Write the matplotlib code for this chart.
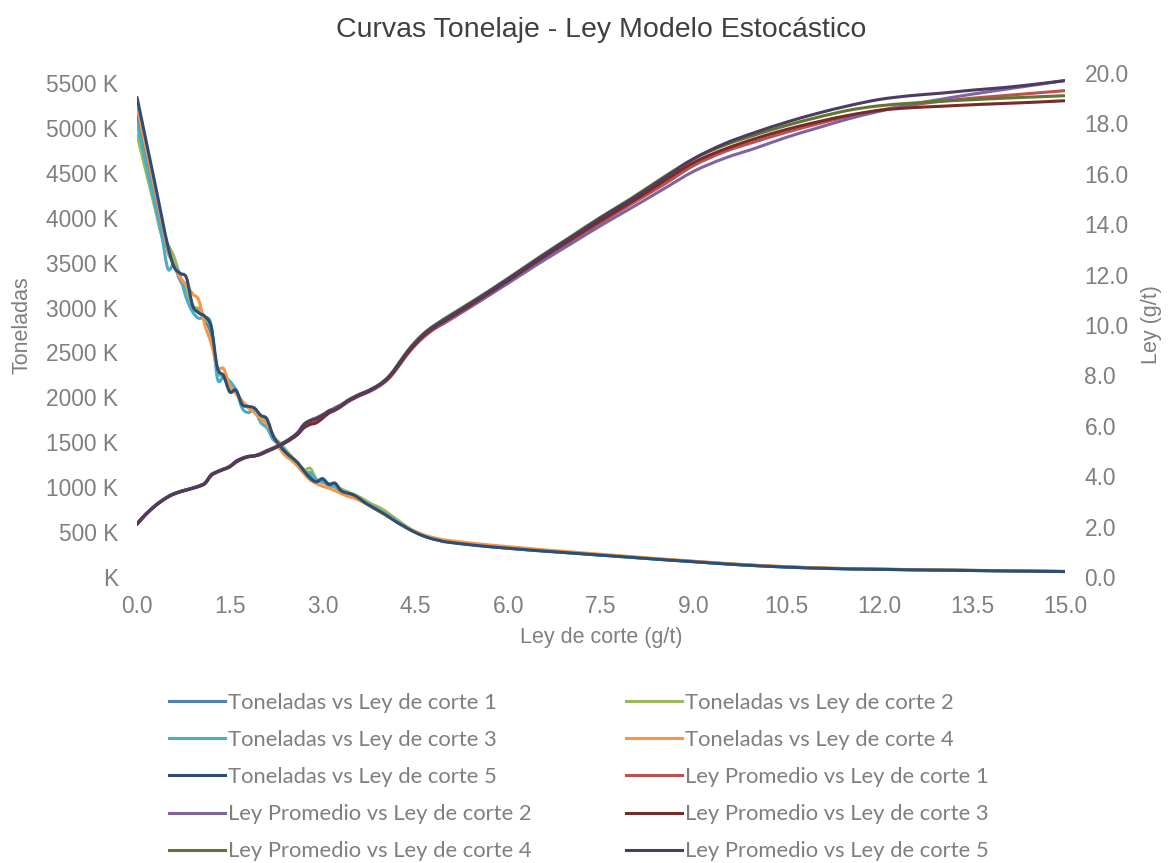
import numpy as np
import matplotlib
matplotlib.use("Agg")
import matplotlib.pyplot as plt
from matplotlib.ticker import FixedLocator, FuncFormatter
from matplotlib.font_manager import FontProperties
from matplotlib.textpath import TextPath
from matplotlib.path import Path
from matplotlib.patches import PathPatch
from matplotlib.lines import Line2D

# ---------------------------------------------------------------------------
# Data: cut-off grade (g/t), tonnage (K t) and mean grade (g/t) per realisation
# ---------------------------------------------------------------------------
ley_corte = [0.0, 0.1, 0.2, 0.3, 0.4, 0.5, 0.6, 0.7, 0.8, 0.9,
             1.0, 1.1, 1.2, 1.3, 1.4, 1.5, 1.6, 1.7, 1.8, 1.9,
             2.0, 2.1, 2.2, 2.3, 2.4, 2.5, 2.6, 2.7, 2.8, 2.9,
             3.0, 3.1, 3.2, 3.3, 3.4, 3.5, 3.6, 3.7, 3.8, 3.9,
             4.0, 4.1, 4.2, 4.3, 4.4, 4.5, 4.6, 4.7, 4.8, 4.9,
             5.0, 5.5, 6.0, 6.5, 7.0, 7.5, 8.0, 8.5, 9.0, 9.5,
             10.0, 10.5, 11.0, 11.5, 12.0, 12.5, 13.0, 13.5, 14.0, 14.5, 15.0]

toneladas_1 = [5150, 4850, 4540, 4230, 3920, 3620, 3480, 3300, 3200, 3020,
               2960, 2860, 2700, 2300, 2230, 2090, 2060, 1950, 1890, 1860,
               1790, 1740, 1580, 1480, 1390, 1320, 1260, 1190, 1120, 1070,
               1070, 1040, 1020, 970, 930, 905, 865, 825, 785, 745,
               705, 660, 615, 575, 535, 500, 470, 445, 425, 410,
               395, 355, 322, 295, 270, 245, 220, 195, 172, 148,
               128, 112, 100, 92, 86, 81, 77, 73, 69, 65, 61]

toneladas_2 = [4920, 4640, 4360, 4080, 3800, 3700, 3560, 3350, 3200, 3010,
               2990, 2880, 2760, 2290, 2250, 2130, 2050, 1960, 1880, 1850,
               1780, 1720, 1560, 1500, 1420, 1340, 1270, 1190, 1210, 1090,
               1050, 1040, 1010, 980, 950, 920, 890, 850, 810, 780,
               740, 690, 640, 590, 545, 505, 470, 445, 425, 410,
               398, 358, 325, 297, 272, 247, 222, 197, 173, 149,
               129, 113, 101, 93, 87, 82, 77, 73, 69, 65, 61]

toneladas_3 = [5050, 4740, 4430, 4120, 3800, 3430, 3480, 3330, 3100, 2950,
               2880, 2890, 2800, 2210, 2230, 2180, 2080, 1880, 1830, 1860,
               1720, 1660, 1530, 1480, 1400, 1300, 1240, 1170, 1160, 1080,
               1060, 1020, 1000, 950, 930, 900, 865, 825, 790, 750,
               710, 665, 620, 575, 535, 498, 465, 440, 420, 405,
               392, 352, 320, 293, 268, 243, 219, 194, 171, 147,
               127, 111, 99, 91, 86, 81, 77, 73, 69, 65, 61]

toneladas_4 = [5240, 4920, 4600, 4280, 3960, 3640, 3470, 3330, 3250, 3150,
               3080, 2800, 2600, 2330, 2320, 2130, 2040, 1950, 1890, 1830,
               1760, 1700, 1570, 1440, 1350, 1300, 1230, 1150, 1080, 1040,
               1010, 990, 960, 930, 900, 880, 850, 815, 775, 735,
               695, 655, 610, 570, 535, 505, 478, 455, 437, 422,
               410, 370, 338, 308, 280, 253, 226, 200, 176, 152,
               132, 115, 102, 94, 88, 83, 78, 74, 70, 66, 62]

toneladas_5 = [5340, 5010, 4680, 4350, 4010, 3680, 3450, 3380, 3330, 3020,
               2940, 2900, 2780, 2330, 2240, 2060, 2080, 1920, 1900, 1880,
               1800, 1760, 1570, 1470, 1390, 1330, 1270, 1180, 1100, 1060,
               1095, 1030, 1045, 960, 935, 915, 870, 820, 780, 740,
               700, 655, 610, 570, 530, 495, 465, 440, 420, 405,
               390, 350, 320, 292, 268, 243, 218, 193, 170, 146,
               126, 110, 98, 90, 85, 80, 76, 72, 68, 64, 60]

ley_promedio_1 = [2.08, 2.36, 2.61, 2.83, 3.01, 3.17, 3.29, 3.38, 3.45, 3.52,
                  3.59, 3.70, 4.02, 4.16, 4.27, 4.37, 4.55, 4.68, 4.77, 4.80,
                  4.86, 4.97, 5.08, 5.20, 5.33, 5.48, 5.68, 6.00, 6.15, 6.22,
                  6.35, 6.52, 6.62, 6.76, 6.93, 7.07, 7.19, 7.29, 7.41, 7.55,
                  7.72, 7.95, 8.26, 8.60, 8.92, 9.20, 9.44, 9.65, 9.83, 9.98,
                  10.12, 10.88, 11.68, 12.50, 13.28, 14.06, 14.82, 15.55, 16.33, 16.88,
                  17.28, 17.65, 17.98, 18.28, 18.52, 18.72, 18.88, 19.00, 19.10, 19.20, 19.30]

ley_promedio_2 = [2.12, 2.40, 2.63, 2.85, 3.03, 3.19, 3.31, 3.40, 3.47, 3.53,
                  3.61, 3.74, 4.06, 4.19, 4.29, 4.40, 4.60, 4.72, 4.79, 4.82,
                  4.90, 5.02, 5.12, 5.24, 5.38, 5.54, 5.74, 6.06, 6.22, 6.32,
                  6.45, 6.56, 6.72, 6.84, 6.99, 7.12, 7.22, 7.32, 7.44, 7.58,
                  7.76, 8.00, 8.32, 8.66, 8.98, 9.25, 9.49, 9.70, 9.87, 10.02,
                  10.16, 10.90, 11.66, 12.45, 13.20, 13.95, 14.66, 15.38, 16.10, 16.62,
                  17.02, 17.45, 17.82, 18.18, 18.48, 18.74, 18.96, 19.16, 19.34, 19.52, 19.70]

ley_promedio_3 = [2.10, 2.37, 2.62, 2.83, 3.02, 3.18, 3.30, 3.39, 3.46, 3.53,
                  3.61, 3.73, 4.04, 4.17, 4.27, 4.37, 4.56, 4.69, 4.77, 4.81,
                  4.89, 5.00, 5.10, 5.21, 5.34, 5.49, 5.66, 5.92, 6.05, 6.12,
                  6.30, 6.50, 6.62, 6.78, 6.96, 7.10, 7.22, 7.32, 7.44, 7.58,
                  7.76, 7.99, 8.31, 8.65, 8.97, 9.25, 9.50, 9.71, 9.89, 10.05,
                  10.20, 10.96, 11.76, 12.58, 13.37, 14.15, 14.90, 15.68, 16.45, 16.98,
                  17.40, 17.76, 18.06, 18.32, 18.52, 18.62, 18.68, 18.74, 18.79, 18.84, 18.90]

ley_promedio_4 = [2.11, 2.39, 2.63, 2.85, 3.03, 3.19, 3.31, 3.39, 3.46, 3.53,
                  3.61, 3.73, 4.05, 4.18, 4.28, 4.39, 4.57, 4.70, 4.78, 4.81,
                  4.89, 5.01, 5.11, 5.23, 5.37, 5.53, 5.73, 6.06, 6.21, 6.30,
                  6.42, 6.60, 6.68, 6.82, 7.00, 7.14, 7.26, 7.36, 7.48, 7.62,
                  7.80, 8.05, 8.38, 8.73, 9.06, 9.34, 9.59, 9.80, 9.98, 10.14,
                  10.30, 11.06, 11.86, 12.69, 13.49, 14.29, 15.04, 15.85, 16.60, 17.14,
                  17.55, 17.92, 18.24, 18.52, 18.70, 18.80, 18.88, 18.94, 19.00, 19.05, 19.10]

ley_promedio_5 = [2.10, 2.38, 2.62, 2.84, 3.02, 3.18, 3.30, 3.38, 3.45, 3.52,
                  3.60, 3.72, 4.05, 4.18, 4.28, 4.38, 4.58, 4.70, 4.78, 4.80,
                  4.88, 5.00, 5.10, 5.22, 5.36, 5.52, 5.72, 6.05, 6.20, 6.28,
                  6.40, 6.58, 6.66, 6.80, 6.98, 7.12, 7.24, 7.34, 7.46, 7.60,
                  7.78, 8.02, 8.35, 8.70, 9.02, 9.30, 9.55, 9.76, 9.94, 10.10,
                  10.25, 11.02, 11.82, 12.65, 13.45, 14.25, 15.00, 15.80, 16.60, 17.20,
                  17.65, 18.05, 18.40, 18.70, 18.95, 19.10, 19.20, 19.32, 19.42, 19.55, 19.70]

ton_ticks = [0, 500, 1000, 1500, 2000, 2500, 3000, 3500, 4000, 4500, 5000, 5500]
ley_ticks = [0, 2, 4, 6, 8, 10, 12, 14, 16, 18, 20]
x_ticks = [0.0, 1.5, 3.0, 4.5, 6.0, 7.5, 9.0, 10.5, 12.0, 13.5, 15.0]

series_ton = [
    ("Toneladas vs Ley de corte 1", toneladas_1, "#4F81BD"),
    ("Toneladas vs Ley de corte 2", toneladas_2, "#9BBB59"),
    ("Toneladas vs Ley de corte 3", toneladas_3, "#4BACC6"),
    ("Toneladas vs Ley de corte 4", toneladas_4, "#F79646"),
    ("Toneladas vs Ley de corte 5", toneladas_5, "#2C4D75"),
]
series_ley = [
    ("Ley Promedio vs Ley de corte 1", ley_promedio_1, "#C0504D"),
    ("Ley Promedio vs Ley de corte 2", ley_promedio_2, "#8064A2"),
    ("Ley Promedio vs Ley de corte 3", ley_promedio_3, "#772C2A"),
    ("Ley Promedio vs Ley de corte 4", ley_promedio_4, "#5F7530"),
    ("Ley Promedio vs Ley de corte 5", ley_promedio_5, "#4D3B62"),
]


def smoothed_path(xs, ys):
    """Cubic Bezier path through every data point (smoothed-line style)."""
    pts = np.column_stack([np.asarray(xs, float), np.asarray(ys, float)])
    n = len(pts)
    verts = [pts[0]]
    codes = [Path.MOVETO]
    for i in range(n - 1):
        p0 = pts[i - 1] if i > 0 else pts[i]
        p1, p2 = pts[i], pts[i + 1]
        p3 = pts[i + 2] if i + 2 < n else pts[i + 1]
        verts += [p1 + (p2 - p0) / 6.0, p2 - (p3 - p1) / 6.0, p2]
        codes += [Path.CURVE4] * 3
    return Path(verts, codes)


# ---------------------------------------------------------------------------
# Figure
# ---------------------------------------------------------------------------
W, H = 1172, 863
FONT = "Liberation Sans"
GREY = "#7f7f7f"
LW = 2.2
plt.rcParams["font.family"] = [FONT, "DejaVu Sans"]

fig = plt.figure(figsize=(W / 100, H / 100), dpi=100)
L, R, T, B = 137, 1065, 73, 577
ax = fig.add_axes([L / W, 1 - B / H, (R - L) / W, (B - T) / H])
ax2 = ax.twinx()

handles = {}
for target, group in ((ax, series_ton), (ax2, series_ley)):
    for name, vals, col in group:
        target.add_patch(PathPatch(smoothed_path(ley_corte, vals), facecolor="none",
                                   edgecolor=col, lw=LW, capstyle="round",
                                   joinstyle="round"))
        handles[name] = Line2D([], [], color=col, lw=LW)

ax.set_xlim(0, 15)
ax.set_ylim(0, 5611)
ax2.set_ylim(0, 20)

ax.xaxis.set_major_locator(FixedLocator(x_ticks))
ax.xaxis.set_major_formatter(FuncFormatter(lambda v, p: f"{v:.1f}"))
ax.yaxis.set_major_locator(FixedLocator(ton_ticks))
ax.yaxis.set_major_formatter(FuncFormatter(lambda v, p: "K" if v == 0 else f"{v:.0f} K"))
ax2.yaxis.set_major_locator(FixedLocator(ley_ticks))
ax2.yaxis.set_major_formatter(FuncFormatter(lambda v, p: f"{v:.1f}"))

for a in (ax, ax2):
    for s in a.spines.values():
        s.set_visible(False)
    a.tick_params(length=0, labelsize=16.4, labelcolor=GREY)
ax.tick_params(axis="y", pad=13.5)
ax.tick_params(axis="x", pad=13)
ax2.tick_params(axis="y", pad=14)

fig.text((L + R) / 2 / W, 1 - 30 / H, "Curvas Tonelaje - Ley Modelo Estocástico",
         ha="center", va="center", fontsize=20.5, color="#404040")
fig.text((L + R) / 2 / W, 1 - 637 / H, "Ley de corte (g/t)",
         ha="center", va="center", fontsize=15.5, color=GREY)
fig.text(22 / W, 1 - 325 / H, "Toneladas", rotation=90,
         ha="center", va="center", fontsize=15.5, color=GREY)
fig.text(1152 / W, 1 - 325 / H, "Ley (g/t)", rotation=90,
         ha="center", va="center", fontsize=15.5, color=GREY)

# ---------------------------------------------------------------------------
# Legend: two columns, entries ordered row by row
# ---------------------------------------------------------------------------
order = [n for n, _, _ in series_ton] + [n for n, _, _ in series_ley]
col1 = order[0::2]
col2 = order[1::2]
leg_names = col1 + col2

LEG_FONT = "Lato"
probe = FontProperties(family=LEG_FONT, size=10)
probe_w = TextPath((0, 0), "Toneladas vs Ley de corte 1", prop=probe).get_extents().width
leg_fs = 10 * (267 * 72 / 100) / probe_w
fs_px = leg_fs * 100 / 72
max_w_pt = max(TextPath((0, 0), n, prop=FontProperties(family=LEG_FONT, size=leg_fs)).get_extents().width
               for n in col1)
max_w_px = max_w_pt * 100 / 72

handle_px, gap_px = 56, 3
colspacing = (455 - handle_px - gap_px - max_w_px) / fs_px

leg = fig.legend([handles[n] for n in leg_names], leg_names, ncol=2,
                 loc="upper left", bbox_to_anchor=(158 / W, 1 - 682 / H),
                 bbox_transform=fig.transFigure, frameon=False, borderpad=0,
                 handlelength=handle_px / fs_px, handletextpad=gap_px / fs_px,
                 columnspacing=colspacing, labelspacing=(43.5 - 1.2 * fs_px) / fs_px,
                 prop=FontProperties(family=LEG_FONT, size=leg_fs))
for t in leg.get_texts():
    t.set_color(GREY)

fig.savefig("out.png", dpi=100, facecolor="white")
